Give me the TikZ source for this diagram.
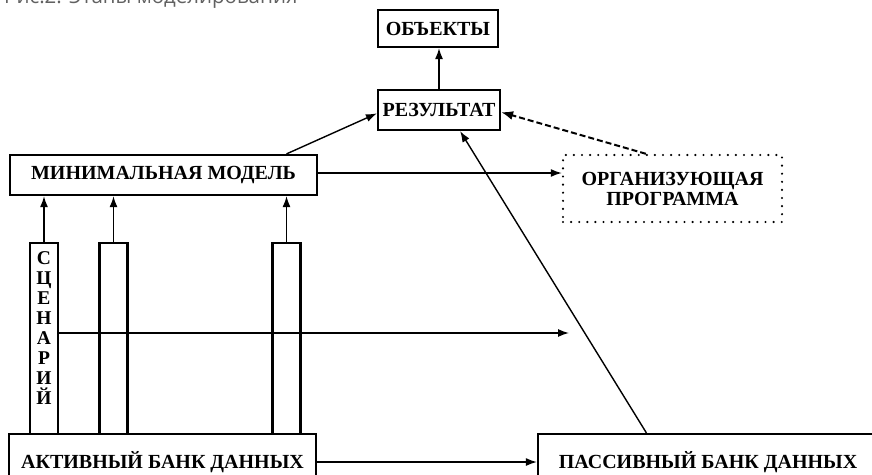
\documentclass[tikz,border=0pt]{standalone}
\usepackage{fontspec}
\setmainfont{Liberation Serif}
\newfontfamily\capfont{Open Sans}
\usetikzlibrary{arrows.meta,calc}
\tikzset{
  box/.style={draw, line width=2.2pt, rectangle, inner sep=0pt, align=center,
    font=\fontsize{20}{20}\selectfont\bfseries},
  bar/.style={draw, line width=2.2pt, rectangle, inner sep=0pt, minimum width=28pt},
  conn/.style={line width=1.4pt, -{Latex[length=11pt,width=8pt]}},
  dconn/.style={line width=2pt, dash pattern=on 6pt off 3pt, -{Latex[length=12pt,width=9pt]}},
  dotbox/.style={draw, line width=2.4pt, line cap=round, dash pattern=on 0pt off 8.1pt,
    rectangle, inner sep=0pt, align=center,
    font=\fontsize{20}{20}\selectfont\bfseries}
}
\begin{document}
\begin{tikzpicture}[x=1pt,y=-1pt]
\clip (0,0) rectangle (872,474);
% caption (cut off at top, as in the reference)
\node[anchor=base west, inner sep=0pt, text=black!62, font=\capfont\fontsize{20.5}{22}\selectfont] (cap) at (4,3.5) {Рис.2. Этапы моделирования};
% boxes
\node[box, minimum width=120pt, minimum height=37pt] (obj) at (438,28.5) {ОБЪЕКТЫ};
\node[box, minimum width=122pt, minimum height=40pt] (res) at (439,110) {РЕЗУЛЬТАТ};
\node[box, minimum width=307pt, minimum height=40pt] (mm) at (163.5,175) {МИНИМАЛЬНАЯ МОДЕЛЬ};
\node[dotbox, minimum width=219pt, minimum height=67pt] (org) at (672.5,188.5) {ОРГАНИЗУЮЩАЯ\\ПРОГРАММА};
\node[bar, minimum height=191pt] (bar1) at (44,338.5) {};
\node[bar, minimum height=191pt] (bar2) at (113.5,338.5) {};
\node[bar, minimum height=191pt] (bar3) at (286.5,338.5) {};
\node[inner sep=0pt, anchor=north, align=center, font=\fontsize{19.5}{20}\selectfont\bfseries] (scen) at (44,251)
  {С\\Ц\\Е\\Н\\А\\Р\\И\\Й};
\node[box, minimum width=307pt, minimum height=56pt] (act) at (162.5,462) {АКТИВНЫЙ БАНК ДАННЫХ};
\node[box, minimum width=340pt, minimum height=56pt] (pas) at (708,462) {ПАССИВНЫЙ БАНК ДАННЫХ};
% connectors
\draw[conn] (res.north) -- (res.north |- obj.south);
\draw[conn] (mm.north -| bar3) -- ($(res.north west)!0.58!(res.south west)$);
\draw[conn] (mm.east |- 0,173) -- (org.west |- 0,173);
\draw[dconn] ($(org.north west)!0.38!(org.north east)$) -- ($(res.north east)!0.55!(res.south east)$);
\draw[conn] (bar1.north) -- (bar1.north |- mm.south);
\draw[conn] (bar2.north) -- (bar2.north |- mm.south);
\draw[conn] (bar3.north) -- (bar3.north |- mm.south);
\coordinate (send) at (569,333);
\draw[conn] (bar1.east |- send) -- (send);
\draw[conn] (act.east) -- (pas.west);
\draw[conn] ($(pas.north west)!0.32!(pas.north east)$) -- ($(res.south west)!0.67!(res.south east)$);
\end{tikzpicture}
\end{document}
